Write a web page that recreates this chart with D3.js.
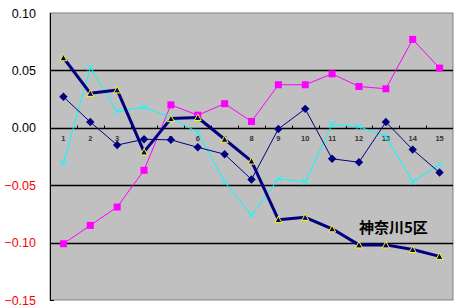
<!DOCTYPE html>
<html>
<head>
<meta charset="utf-8">
<script src="https://cdn.jsdelivr.net/npm/d3@7"></script>
<style>
    body { margin: 0; background: #fff; }
    svg { display: block; }
</style>
</head>
<body>
<div id="chart"></div>
<script>
const categories = ['1', '2', '3', '4', '5', '6', '7', '8', '9', '10', '11', '12', '13', '14', '15'];
const yTicks = [0.10, 0.05, 0.00, -0.05, -0.10, -0.15];

const diamondSeries = [0.027, 0.005, -0.015, -0.010, -0.0105, -0.017, -0.023, -0.045, -0.001, 0.0165, -0.027, -0.030, 0.005, -0.019, -0.039];
const squareSeries = [-0.101, -0.085, -0.069, -0.037, 0.020, 0.011, 0.021, 0.0055, 0.0375, 0.0375, 0.047, 0.036, 0.034, 0.077, 0.052];
const crossSeries = [-0.031, 0.0525, 0.014, 0.018, 0.009, -0.004, -0.047, -0.076, -0.0445, -0.047, 0.003, 0.001, -0.0075, -0.047, -0.032];
const triangleSeries = [0.061, 0.030, 0.033, -0.021, 0.008, 0.009, -0.010, -0.029, -0.080, -0.078, -0.088, -0.102, -0.102, -0.106, -0.112];
const seriesLabel = '神奈川5区';

const W = 458, H = 308;
const plot = { left: 50, right: 453, top: 13, bottom: 300 };

const svg = d3.select('#chart').append('svg')
    .attr('width', W)
    .attr('height', H);

const x = d3.scaleBand()
    .domain(categories)
    .range([plot.left, plot.right])
    .padding(0);

const y = d3.scaleLinear()
    .domain([-0.15, 0.10])
    .range([plot.bottom, plot.top]);

const cx = (i) => x(categories[i]) + x.bandwidth() / 2;

// plot area
svg.append('rect')
    .attr('x', plot.left)
    .attr('y', plot.top)
    .attr('width', plot.right - plot.left)
    .attr('height', plot.bottom - plot.top)
    .attr('fill', '#c0c0c0')
    .attr('stroke', '#808080')
    .attr('stroke-width', 1);

// grid lines
svg.append('g')
    .selectAll('line')
    .data(yTicks.filter((d) => d < 0.1 && d > -0.15))
    .enter().append('line')
    .attr('x1', plot.left)
    .attr('x2', plot.right)
    .attr('y1', (d) => Math.round(y(d)) + 0.5)
    .attr('y2', (d) => Math.round(y(d)) + 0.5)
    .attr('stroke', '#000')
    .attr('stroke-width', 1.3);

// left axis line
svg.append('line')
    .attr('x1', plot.left + 0.5)
    .attr('x2', plot.left + 0.5)
    .attr('y1', plot.top)
    .attr('y2', plot.bottom + 1)
    .attr('stroke', '#000');
svg.append('line')
    .attr('x1', plot.left)
    .attr('x2', plot.left + 4)
    .attr('y1', plot.bottom + 0.5)
    .attr('y2', plot.bottom + 0.5)
    .attr('stroke', '#000');

// y tick labels
svg.append('g')
    .selectAll('text')
    .data(yTicks)
    .enter().append('text')
    .attr('x', 36)
    .attr('y', (d) => y(d))
    .attr('dy', '0.36em')
    .attr('text-anchor', 'end')
    .style('font-family', '"Liberation Sans", Arial, sans-serif')
    .style('font-size', '12.5px')
    .attr('fill', (d) => (d < 0 ? '#ff0000' : '#000'))
    .text((d) => (d < 0 ? '\u2212' + Math.abs(d).toFixed(2) : d.toFixed(2)));

// x ticks on zero line
const zeroY = Math.round(y(0)) + 0.5;
const xAxis = d3.axisBottom(x).tickSize(0).tickPadding(7);
const xg = svg.append('g')
    .attr('transform', `translate(0, ${zeroY})`)
    .call(xAxis);
xg.select('.domain').remove();
xg.selectAll('text')
    .style('font-family', '"Liberation Sans", Arial, sans-serif')
    .style('font-size', '7.5px')
    .style('font-weight', 'bold')
    .attr('fill', '#333');
svg.append('g')
    .selectAll('line')
    .data(categories.slice(1))
    .enter().append('line')
    .attr('x1', (d) => Math.round(x(d)) + 0.5)
    .attr('x2', (d) => Math.round(x(d)) + 0.5)
    .attr('y1', zeroY - 3)
    .attr('y2', zeroY)
    .attr('stroke', '#000');

const line = d3.line()
    .x((d, i) => cx(i))
    .y((d) => y(d));

function drawSeries(values, color, width) {
    svg.append('path')
        .datum(values)
        .attr('d', line)
        .attr('fill', 'none')
        .attr('stroke', color)
        .attr('stroke-width', width)
        .attr('stroke-linejoin', 'round');
}

// magenta squares
drawSeries(squareSeries, '#ff00ff', 1);
svg.append('g')
    .selectAll('rect')
    .data(squareSeries)
    .enter().append('rect')
    .attr('x', (d, i) => cx(i) - 3.5)
    .attr('y', (d) => y(d) - 3.5)
    .attr('width', 7)
    .attr('height', 7)
    .attr('fill', '#ff00ff');

// cyan crosses
drawSeries(crossSeries, '#00ffff', 1);
svg.append('g')
    .selectAll('path')
    .data(crossSeries)
    .enter().append('path')
    .attr('d', (d, i) => {
        const px = cx(i), py = y(d), s = 3;
        return `M${px - s},${py - s}L${px + s},${py + s}M${px - s},${py + s}L${px + s},${py - s}`;
    })
    .attr('stroke', '#00ffff')
    .attr('stroke-width', 1);

// navy diamonds
drawSeries(diamondSeries, '#000080', 1);
svg.append('g')
    .selectAll('path')
    .data(diamondSeries)
    .enter().append('path')
    .attr('d', (d, i) => {
        const px = cx(i), py = y(d), s = 4.2;
        return `M${px},${py - s}L${px + s},${py}L${px},${py + s}L${px - s},${py}Z`;
    })
    .attr('fill', '#000080');

// thick navy with yellow-outlined triangles
drawSeries(triangleSeries, '#000080', 3);
svg.append('g')
    .selectAll('path')
    .data(triangleSeries)
    .enter().append('path')
    .attr('d', (d, i) => {
        const px = cx(i), py = y(d);
        return `M${px},${py - 3.5}L${px + 3.5},${py + 3}L${px - 3.5},${py + 3}Z`;
    })
    .attr('fill', '#000080')
    .attr('stroke', '#ffff00')
    .attr('stroke-width', 1);

// series label
svg.append('text')
    .attr('x', 359)
    .attr('y', 233)
    .style('font-family', '"Noto Sans CJK JP", sans-serif')
    .style('font-size', '15px')
    .style('font-weight', 'bold')
    .attr('fill', '#000')
    .text(seriesLabel);
</script>
</body>
</html>
